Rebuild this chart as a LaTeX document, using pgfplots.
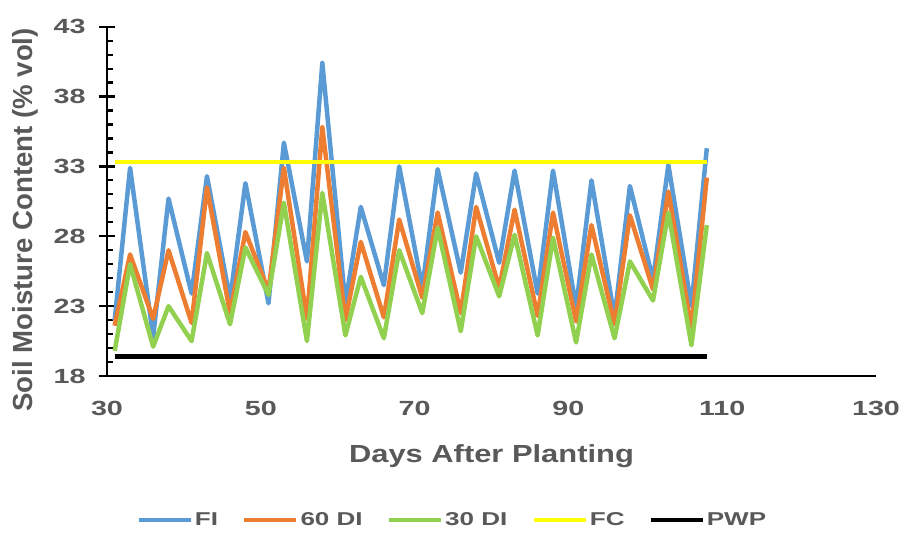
\documentclass[border=0pt]{standalone}
\usepackage{pgfplots}
\usepackage{pgfplotstable}
\pgfplotsset{compat=1.18}
\usepackage{fontspec}
\setmainfont{Liberation Sans}
\definecolor{fiblue}{HTML}{5B9BD5}
\definecolor{diorange}{HTML}{ED7D31}
\definecolor{digreen}{HTML}{92D050}
\definecolor{fcyellow}{HTML}{FFFF00}
\definecolor{txtgray}{HTML}{595959}
\newcommand{\hs}[2][1.4]{\scalebox{#1}[1]{#2}}

\pgfplotstableread{
day FI DIsixty DIthirty
31 22.0 21.6 19.8
33 32.9 26.7 26.0
36 20.8 22.1 20.1
38 30.7 27.0 23.0
41 23.9 21.8 20.5
43 32.3 31.5 26.8
46 23.5 22.5 21.7
48 31.8 28.3 27.2
51 23.2 24.1 23.8
53 34.7 32.9 30.4
56 26.2 22.1 20.5
58 40.4 35.8 31.1
61 23.2 22.0 20.9
63 30.1 27.6 25.1
66 24.5 22.2 20.7
68 33.0 29.2 27.0
71 24.3 23.6 22.5
73 32.8 29.7 28.6
76 25.4 22.5 21.2
78 32.5 30.1 28.0
81 26.1 24.3 23.7
83 32.7 29.9 28.1
86 23.9 22.3 20.9
88 32.7 29.7 27.9
91 22.9 21.9 20.4
93 32.0 28.8 26.7
96 22.2 21.7 20.7
98 31.6 29.5 26.2
101 24.9 24.2 23.4
103 33.1 31.2 29.7
106 23.0 21.4 20.2
108 34.3 32.2 28.8
}\moisture

\begin{document}
\begin{tikzpicture}
\path[use as bounding box] (0,0) rectangle (904bp,540bp);
\begin{axis}[
  at={(107bp,164bp)}, anchor=south west,
  scale only axis, width=769bp, height=349.3bp,
  xmin=30, xmax=130, ymin=18, ymax=43,
  axis x line=bottom, axis y line=left,
  axis line style={-, line width=2.5bp, black},
  xtick={30,50,...,130}, ytick={18,23,...,43},
  minor y tick num=4,
  x tick style={draw=none},
  y tick style={black, line width=2.2bp},
  tick align=center,
  major tick length=16bp,
  minor tick length=6bp,
  every minor tick/.append style={xshift=3bp},
  ticklabel style={font=\fontsize{20.5bp}{24bp}\selectfont\bfseries, text=txtgray},
  xticklabel={\hs{\pgfmathprintnumber[assume math mode=true]{\tick}}},
  yticklabel={\hs{\pgfmathprintnumber[assume math mode=true]{\tick}}},
  xticklabel style={yshift=-14bp},
  yticklabel style={xshift=-10bp},
  xlabel={\hs[1.25]{Days After Planting}},
  ylabel={Soil Moisture Content (\% vol)},
  every axis x label/.style={at={(axis description cs:0.5,-0.229)}, anchor=center,
     font=\fontsize{24.7bp}{28bp}\selectfont\bfseries, text=txtgray},
  every axis y label/.style={at={(axis description cs:-0.1066,0.447)}, rotate=90, anchor=center,
     font=\fontsize{27.6bp}{30bp}\selectfont\bfseries, text=txtgray},
  legend columns=5,
  legend style={at={(axis description cs:0.449,-0.412)}, anchor=center, draw=none, fill=none,
     font=\fontsize{18.6bp}{22bp}\selectfont\bfseries, text=txtgray,
     /tikz/every even column/.append style={column sep=22bp}},
  legend image code/.code={\draw[#1] (0bp,0bp) -- (52bp,0bp);},
  clip=false,
]
\addplot[fiblue, line width=4.5bp, line join=round] table[x=day, y=FI] {\moisture};
\addlegendentry{\hs{FI}}
\addplot[diorange, line width=4.5bp, line join=round] table[x=day, y=DIsixty] {\moisture};
\addlegendentry{\hs{60 DI}}
\addplot[digreen, line width=4.5bp, line join=round] table[x=day, y=DIthirty] {\moisture};
\addlegendentry{\hs{30 DI}}
\addplot[fcyellow, line width=4.5bp] coordinates {(31,33.3) (108,33.3)};
\addlegendentry{\hs{FC}}
\addplot[black, line width=4.2bp] coordinates {(31,19.4) (108,19.4)};
\addlegendentry{\hs{PWP}}
\end{axis}
\end{tikzpicture}
\end{document}
